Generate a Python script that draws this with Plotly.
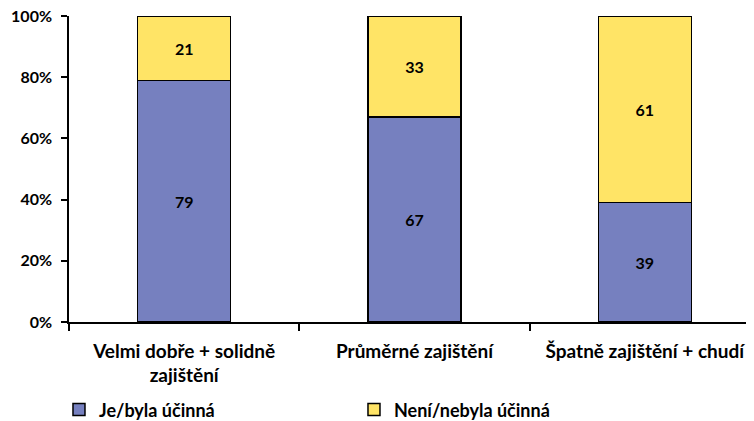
import plotly.graph_objects as go

categories = ["Velmi dobře + solidně<br>zajištění", "Průměrné zajištění", "Špatně zajištění + chudí"]
effective = [79, 67, 39]
not_effective = [21, 33, 61]
y_ticks = [0, 20, 40, 60, 80, 100]

FONT = "Lato"
blue = "#7680bf"
yellow = "#ffe466"

fig = go.Figure()
fig.add_trace(go.Bar(
    x=categories, y=effective, name="Je/byla účinná",
    marker=dict(color=blue, line=dict(color="black", width=1.5)),
    text=effective, textposition="inside", insidetextanchor="middle",
    textfont=dict(family=FONT, size=16, color="black", weight="bold"),
))
fig.add_trace(go.Bar(
    x=categories, y=not_effective, name="Není/nebyla účinná",
    marker=dict(color=yellow, line=dict(color="black", width=1.5)),
    text=not_effective, textposition="inside", insidetextanchor="middle",
    textfont=dict(family=FONT, size=16, color="black", weight="bold"),
))

# the page body adds an 8px offset, so margins are shifted to compensate
fig.update_layout(
    barmode="stack",
    bargap=0.596,
    width=754, height=421,
    paper_bgcolor="white", plot_bgcolor="white",
    margin=dict(l=61, r=2, t=8, b=106),
    font=dict(family=FONT, size=15, color="black"),
    showlegend=True,
    legend=dict(
        orientation="h", x=-0.0145, xanchor="left", y=-0.283, yanchor="middle",
        font=dict(family=FONT, size=18, color="black", weight="bold"),
        entrywidth=250, traceorder="normal",
    ),
    uniformtext=dict(minsize=15, mode="show"),
)
fig.update_xaxes(
    range=[-0.5, 2.5], showline=True, linecolor="black", linewidth=1.5,
    ticks="outside", tickson="boundaries", ticklen=7, tickcolor="black", tickwidth=1.5,
    tickfont=dict(family=FONT, size=19, color="black", weight="bold"),
    ticklabelstandoff=11, automargin=False,
    showgrid=False,
)
fig.update_yaxes(
    range=[0, 100], tickvals=y_ticks, ticktext=[f"{v}%" for v in y_ticks],
    showline=True, linecolor="black", linewidth=1.5,
    ticks="outside", ticklen=6, tickcolor="black", tickwidth=1.5,
    tickfont=dict(family=FONT, size=16, color="black", weight="bold"),
    ticklabelstandoff=6, ticklabeloverflow="allow",
    automargin=False, showgrid=False, zeroline=False,
)

fig.write_html("out.html")
